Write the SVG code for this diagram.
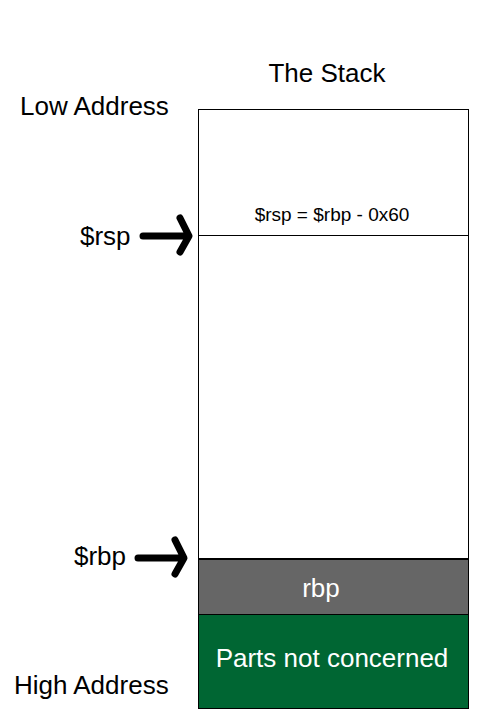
<svg xmlns="http://www.w3.org/2000/svg" width="500" height="720" viewBox="0 0 500 720">
<style>
text{font-family:"Liberation Sans",Arial,sans-serif}
.lbl{font-size:26px;fill:#000}
.arr{fill:none;stroke:#000;stroke-width:7;stroke-linecap:round;stroke-linejoin:round}
</style>
<rect width="500" height="720" fill="#fff"/>
<text class="lbl" x="327" y="82" text-anchor="middle">The Stack</text>
<text class="lbl" x="20" y="115">Low Address</text>
<text class="lbl" x="14" y="694">High Address</text>
<g id="stack">
<rect x="198.5" y="109.5" width="270" height="449" fill="#fff" stroke="#000" stroke-width="1"/>
<line x1="198" y1="235.5" x2="469" y2="235.5" stroke="#000" stroke-width="1"/>
<text x="332" y="221" text-anchor="middle" font-size="19">$rsp = $rbp - 0x60</text>
</g>
<g id="rbp">
<rect x="198.5" y="559.5" width="270" height="55" fill="#666" stroke="#000" stroke-width="1"/>
<text x="321" y="597" text-anchor="middle" font-size="26" fill="#fff">rbp</text>
</g>
<g id="parts">
<rect x="198.5" y="614.5" width="270" height="94" fill="#006633" stroke="#000" stroke-width="1"/>
<text x="332" y="667" text-anchor="middle" font-size="26" fill="#fff">Parts not concerned</text>
</g>
<text class="lbl" x="80" y="245">$rsp</text>
<text class="lbl" x="74" y="565">$rbp</text>
<g id="connectors">
<path class="arr" d="M143 236 H188 M180 218 L189 236 L180 252"/>
<path class="arr" d="M138 558 H183 M175 540 L184 558 L175 574"/>
</g>
</svg>
